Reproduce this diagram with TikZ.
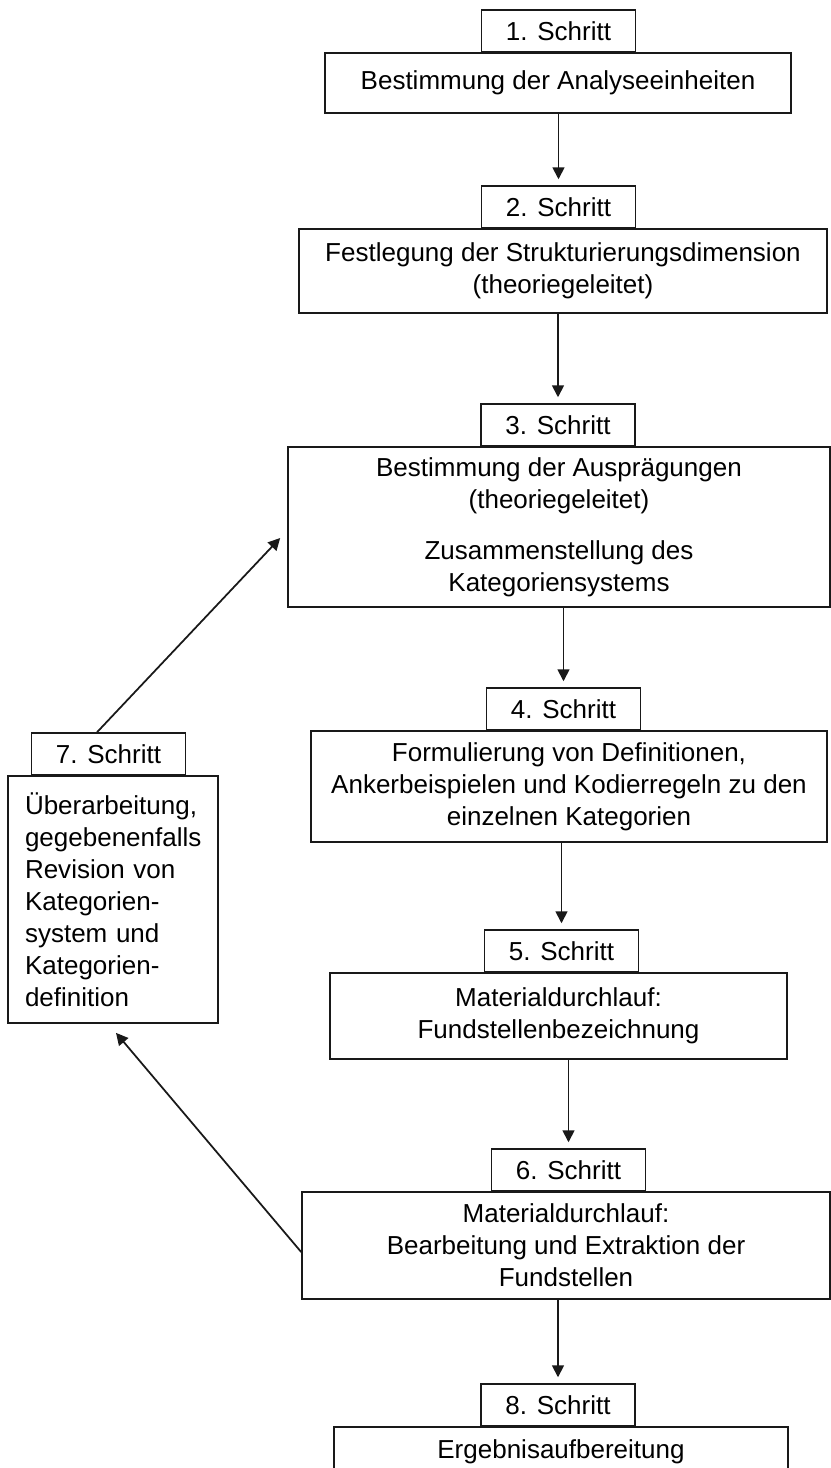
\documentclass[tikz,border=0pt]{standalone}
\usepackage{fontspec}
\setmainfont{Liberation Sans}
\usetikzlibrary{arrows.meta,calc}
\definecolor{LineClr}{rgb}{0.1,0.1,0.1}
\newcommand\StepFont{\fontsize{14.8}{18.2}\selectfont}

\begin{document}
\begin{tikzpicture}[x=0.02cm,y=-0.02cm,
  StepBox/.style={draw=LineClr,line width=1pt,inner sep=0pt,align=center,font=\StepFont},
  StepLabel/.style={StepBox,anchor=south,minimum width=3.08cm,minimum height=0.84cm},
  FlowArrow/.style={draw=LineClr,line width=1pt,-{Triangle[length=0.24cm,width=0.24cm]}}]
\useasboundingbox (0,0) rectangle (831,1468);

% main boxes
\node[StepBox,minimum width=9.32cm,minimum height=1.2cm] (B1) at (558,83)
  {Bestimmung der Analyseeinheiten};
\node[StepBox,minimum width=10.56cm,minimum height=1.68cm] (B2) at (563,271)
  {Festlegung der Strukturierungsdimension\\(theoriegeleitet)};
\node[StepBox,minimum width=10.84cm,minimum height=3.2cm] (B3) at (559,527)
  {Bestimmung der Ausprägungen\\(theoriegeleitet)\\[0.38cm]Zusammenstellung des\\Kategoriensystems};
\node[StepBox,minimum width=10.32cm,minimum height=2.22cm] (B4) at (569,786.5)
  {Formulierung von Definitionen,\\Ankerbeispielen und Kodierregeln zu den\\einzelnen Kategorien};
\node[StepBox,minimum width=9.14cm,minimum height=1.72cm] (B5) at (558.5,1016)
  {Materialdurchlauf:\\Fundstellenbezeichnung};
\node[StepBox,minimum width=10.56cm,minimum height=2.14cm] (B6) at (566,1245.5)
  {Materialdurchlauf:\\Bearbeitung und Extraktion der\\Fundstellen};
\node[StepBox,align=left,inner xsep=0.34cm,text width=3.52cm,minimum height=4.94cm] (B7) at (113,899.5)
  {Überarbeitung,\\gegebenenfalls\\Revision von\\Kategorien-\\system und\\Kategorien-\\definition};
\node[StepBox,minimum width=9.08cm,minimum height=1.0cm] (B8) at (561,1452)
  {Ergebnisaufbereitung};

% step labels
\node[StepLabel] (L1) at (558.5,53) {1. Schritt};
\node[StepLabel] (L2) at (558.5,229) {2. Schritt};
\node[StepLabel] (L3) at (558,447) {3. Schritt};
\node[StepLabel] (L4) at (563.5,731) {4. Schritt};
\node[StepLabel] (L5) at (561.5,973) {5. Schritt};
\node[StepLabel] (L6) at (568.5,1192) {6. Schritt};
\node[StepLabel] (L7) at (108.5,776) {7. Schritt};
\node[StepLabel] (L8) at (558,1427) {8. Schritt};

% arrows
\foreach \a/\b in {B1/L2,B2/L3,B3/L4,B4/L5,B5/L6,B6/L8}
  \draw[FlowArrow,shorten >=0.12cm] (\b.north |- \a.south) -- (\b.north);
\draw[FlowArrow] ([xshift=-0.23cm]L7.north) -- ([shift={(-0.14cm,-0.22cm)}]B3.west);
\draw[FlowArrow] ([yshift=-0.13cm]B6.west) -- ([shift={(0.06cm,-0.18cm)}]B7.south);

\end{tikzpicture}
\end{document}
